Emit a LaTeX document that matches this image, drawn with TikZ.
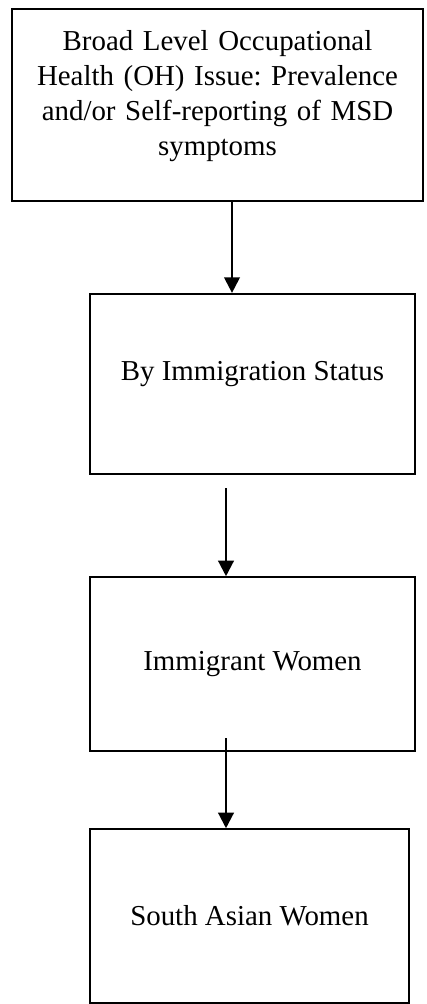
\documentclass[tikz,border=0pt]{standalone}
\usepackage{fontspec}
\setmainfont{Liberation Serif}
\frenchspacing
\usetikzlibrary{arrows.meta,calc}
\tikzset{
>={Triangle[length=7pt,width=7pt]},
kasten/.style={draw,line width=1pt,inner sep=0pt},
schrift/.style={align=center,inner sep=0pt,font=\fontsize{13}{15.75}\selectfont},
pfeil/.style={->,line width=1pt}}

\begin{document}
\begin{tikzpicture}[x=0.45pt,y=-0.45pt]
\useasboundingbox (0,0) rectangle (427,1004);

\node[kasten,minimum width=185pt,minimum height=86.4pt,
  label={[schrift,text width=180pt,yshift=3.8pt]center:Broad Level Occupational\\Health (OH) Issue: Prevalence\\and/or Self-reporting of MSD\\symptoms}] (oh) at (217.5,105) {};
\node[kasten,minimum width=146pt,minimum height=81pt,
  label={[schrift,yshift=4.5pt]center:By Immigration Status}] (status) at (252.5,384) {};
\node[kasten,minimum width=146pt,minimum height=78pt,
  label={[schrift]center:Immigrant Women}] (immig) at (252.5,664) {};
\node[kasten,minimum width=143.5pt,minimum height=78pt,
  label={[schrift]center:South Asian Women}] (south) at (249.5,916) {};

% Pfeile
\coordinate (x1) at (232,0);
\coordinate (x2) at (226,0);
\coordinate (s2) at (226,488);
\coordinate (s3) at (226,738);

\draw[pfeil] (oh.south -| x1) -- (status.north -| x1);
\draw[pfeil] (s2) -- (immig.north -| x2);
\draw[pfeil] (s3) -- (south.north -| x2);

\end{tikzpicture}
\end{document}
